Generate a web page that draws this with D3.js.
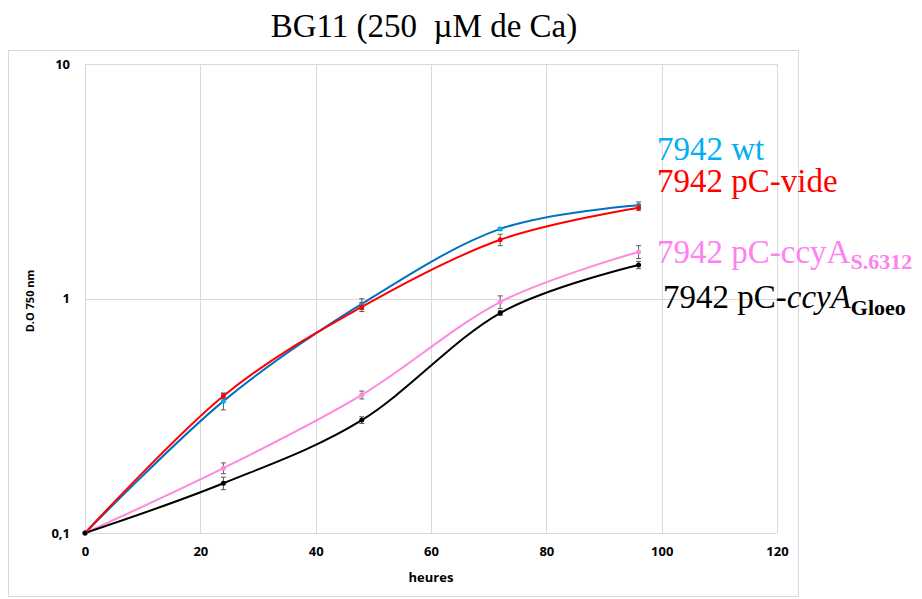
<!DOCTYPE html>
<html>
<head>
<meta charset="utf-8">
<script src="https://cdn.jsdelivr.net/npm/d3@7"></script>
<style>
  body { margin: 0; background: #fff; }
  .tick text { font-family: "Open Sans", sans-serif; font-weight: 700; font-size: 13px; fill: #000; }
</style>
</head>
<body>
<div id="chart"></div>
<script>
// time points (heures)
const hours = [0, 24, 48, 72, 96];

// D.O 750 nm per strain
const wt = [0.1, 0.365, 0.948, 1.98, 2.50];
const pcVide = [0.1, 0.384, 0.92, 1.78, 2.44];
const pcS6312 = [0.1, 0.189, 0.388, 0.966, 1.58];
const pcGloeo = [0.1, 0.163, 0.303, 0.867, 1.39];

// error bars (+/-)
const wtErr = [0, 0.03, 0.05, 0.03, 0.08];
const pcVideErr = [0, 0.01, 0.04, 0.1, 0.07];
const pcS6312Err = [0, 0.01, 0.015, 0.06, 0.1];
const pcGloeoErr = [0, 0.01, 0.01, 0.02, 0.05];

const xTicks = [0, 20, 40, 60, 80, 100, 120];
const yTicks = [0.1, 1, 10];

const width = 922, height = 599;
const plot = { left: 85, right: 777, top: 64, bottom: 533 };

const svg = d3.select('#chart').append('svg')
    .attr('width', width)
    .attr('height', height);

// chart area border
svg.append('rect')
    .attr('x', 8.5).attr('y', 50.5)
    .attr('width', 790).attr('height', 546)
    .attr('fill', '#fff')
    .attr('stroke', '#d9d9d9');

const x_scale = d3.scaleLinear().domain([0, 120]).range([plot.left, plot.right]);
const y_scale = d3.scaleLog().domain([0.1, 10]).range([plot.bottom, plot.top]);

// grid
svg.append('g').selectAll('line').data(xTicks).join('line')
    .attr('x1', d => Math.round(x_scale(d)) + 0.5).attr('x2', d => Math.round(x_scale(d)) + 0.5)
    .attr('y1', plot.top).attr('y2', plot.bottom)
    .attr('stroke', '#d9d9d9');
svg.append('g').selectAll('line').data(yTicks).join('line')
    .attr('x1', plot.left).attr('x2', plot.right)
    .attr('y1', d => Math.round(y_scale(d)) + 0.5).attr('y2', d => Math.round(y_scale(d)) + 0.5)
    .attr('stroke', '#d9d9d9');

// axes (labels only)
const x_axis = d3.axisBottom(x_scale).tickValues(xTicks).tickSize(0).tickPadding(14);
const y_axis = d3.axisLeft(y_scale).tickValues(yTicks).tickSize(0).tickPadding(15)
    .tickFormat(d => String(d).replace('.', ','));

svg.append('g').attr('transform', `translate(0,${plot.bottom})`).call(x_axis)
    .call(g => g.select('.domain').remove());
svg.append('g').attr('transform', `translate(${plot.left},0)`).call(y_axis)
    .call(g => g.select('.domain').remove());

// axis titles
svg.append('text')
    .attr('x', 431).attr('y', 582)
    .attr('text-anchor', 'middle')
    .style('font-family', '"Open Sans", sans-serif').style('font-weight', 700).style('font-size', '13px')
    .text('heures');
svg.append('text')
    .attr('transform', 'translate(34,301) rotate(-90)')
    .attr('text-anchor', 'middle')
    .style('font-family', '"Open Sans", sans-serif').style('font-weight', 700).style('font-size', '11px')
    .text('D.O 750 nm');

// title
svg.append('text')
    .attr('x', 424).attr('y', 37)
    .attr('text-anchor', 'middle')
    .style('font-family', '"Liberation Serif", serif').style('font-size', '33px')
    .text('BG11 (250\u00a0\u00a0\u00b5M de Ca)');

// series
const series = [
    { vals: wt, err: wtErr, line: '#0070c0', mark: '#00b0f0' },
    { vals: pcVide, err: pcVideErr, line: '#ff0000', mark: '#ff0000' },
    { vals: pcS6312, err: pcS6312Err, line: '#ff88dd', mark: '#ff88dd' },
    { vals: pcGloeo, err: pcGloeoErr, line: '#000000', mark: '#000000' }
];

const line = d3.line()
    .x((d, i) => x_scale(hours[i]))
    .y(d => y_scale(d))
    .curve(d3.curveCardinal.tension(0));

series.forEach(s => {
    svg.append('path')
        .datum(s.vals)
        .attr('fill', 'none')
        .attr('stroke', s.line)
        .attr('stroke-width', 2)
        .attr('d', line);
});

series.forEach(s => {
    const g = svg.append('g');
    s.vals.forEach((v, i) => {
        const cx = x_scale(hours[i]);
        if (s.err[i] > 0) {
            const y1 = y_scale(v + s.err[i]), y2 = y_scale(v - s.err[i]);
            g.append('line').attr('x1', cx).attr('x2', cx).attr('y1', y1).attr('y2', y2)
                .attr('stroke', '#595959').attr('stroke-width', 1);
            [y1, y2].forEach(yy => g.append('line')
                .attr('x1', cx - 2.5).attr('x2', cx + 2.5).attr('y1', yy).attr('y2', yy)
                .attr('stroke', '#595959').attr('stroke-width', 1));
        }
        g.append('circle').attr('cx', cx).attr('cy', y_scale(v)).attr('r', 2.5)
            .attr('fill', s.mark);
    });
});

// labels
const serif = '"Liberation Serif", serif';
const lab = svg.append('g').style('font-family', serif);
lab.append('text').attr('x', 657).attr('y', 160).style('font-size', '33px').attr('fill', '#00b0f0')
    .text('7942 wt');
lab.append('text').attr('x', 657).attr('y', 192).style('font-size', '33px').attr('fill', '#ff0000')
    .text('7942 pC-vide');
const t3 = lab.append('text').attr('x', 657).attr('y', 263).style('font-size', '33px').attr('fill', '#ff80f0');
t3.append('tspan').text('7942 pC-ccyA');
t3.append('tspan').attr('dy', 6).style('font-size', '22px').style('font-weight', 700).text('S.6312');
const t4 = lab.append('text').attr('x', 663).attr('y', 308).style('font-size', '33px').attr('fill', '#000');
t4.append('tspan').text('7942 pC-');
t4.append('tspan').style('font-style', 'italic').text('ccyA');
t4.append('tspan').attr('dy', 7).style('font-size', '22px').style('font-weight', 700).text('Gloeo');
</script>
</body>
</html>
